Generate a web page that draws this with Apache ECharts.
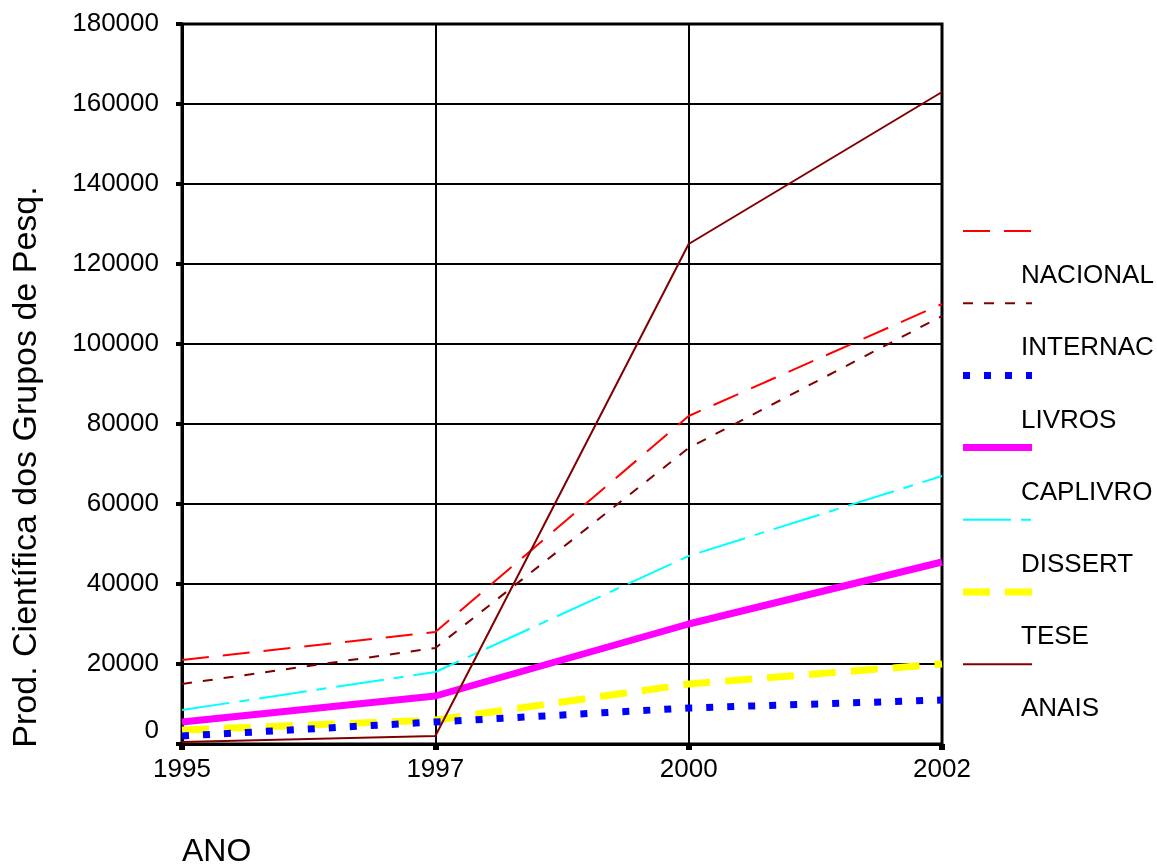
<!DOCTYPE html>
<html>
<head>
<meta charset="utf-8">
<script src="https://cdn.jsdelivr.net/npm/echarts@6/dist/echarts.min.js"></script>
<style>
  html, body { margin: 0; padding: 0; background: #ffffff; }
  #chart { width: 1157px; height: 868px; }
</style>
</head>
<body>
<div id="chart"></div>
<script>
// Production of the research groups, per year
var years = ['1995', '1997', '2000', '2002'];
var yTicks = [0, 20000, 40000, 60000, 80000, 100000, 120000, 140000, 160000, 180000];

var nacional = [21000, 28000, 82000, 110000];
var internac = [15000, 24000, 74000, 107000];
var livros   = [2000, 5500, 9000, 11000];
var caplivro = [5500, 12000, 30000, 45500];
var dissert  = [8500, 18000, 47000, 67000];
var tese     = [3500, 6000, 15000, 20000];
var anais    = [500, 2000, 125000, 163000];

var seriesNames = ['NACIONAL', 'INTERNAC', 'LIVROS', 'CAPLIVRO', 'DISSERT', 'TESE', 'ANAIS'];
var seriesData  = [nacional, internac, livros, caplivro, dissert, tese, anais];

// line look for each series
var styles = [
  { color: '#ff0000', width: 2, dash: [27, 14], z: 3 },
  { color: '#800000', width: 2, dash: [10, 11], z: 3 },
  { color: '#0000ff', width: 7, dash: [7, 14],  z: 6 },
  { color: '#ff00ff', width: 7, dash: 'solid',  z: 4 },
  { color: '#00ffff', width: 2, dash: [48, 10, 10, 10], z: 3 },
  { color: '#ffff00', width: 7, dash: [27, 15], z: 5 },
  { color: '#800000', width: 2, dash: 'solid',  z: 7 }
];

var font = 'Liberation Sans, Arial, sans-serif';

var series = seriesNames.map(function (name, i) {
  var s = styles[i];
  return {
    name: name,
    type: 'line',
    data: seriesData[i],
    symbol: 'none',
    z: s.z,
    lineStyle: { color: s.color, width: s.width, type: s.dash, cap: 'butt' },
    itemStyle: { color: s.color }
  };
});

// legend on the right: line sample, with the name below it
var legendGraphics = [];
var legendTop = 231, legendStep = 72.2;
seriesNames.forEach(function (name, i) {
  var s = styles[i];
  var y = legendTop + i * legendStep;
  legendGraphics.push({
    type: 'line',
    shape: { x1: 963, y1: y, x2: 1032, y2: y },
    style: { stroke: s.color, lineWidth: s.width, lineDash: s.dash === 'solid' ? null : s.dash, lineCap: 'butt' },
    z: 10
  });
  legendGraphics.push({
    type: 'text',
    x: 1021,
    y: y + 45,
    style: { text: name, font: '26px ' + font, fill: '#000', textVerticalAlign: 'middle', textAlign: 'left' },
    z: 10
  });
});

var chart = echarts.init(document.getElementById('chart'), null, { renderer: 'canvas' });

chart.setOption({
  backgroundColor: '#ffffff',
  animation: false,
  grid: {
    left: 182, right: 215, top: 24, bottom: 122,
    show: true, borderColor: '#000', borderWidth: 3, backgroundColor: 'transparent'
  },
  xAxis: {
    type: 'category',
    data: years,
    boundaryGap: false,
    name: 'ANO',
    nameLocation: 'start',
    nameGap: 0,
    nameTextStyle: {
      fontFamily: font, fontSize: 32, color: '#000',
      align: 'left', verticalAlign: 'top', padding: [92, 0, 0, 0]
    },
    axisLine: { show: true, lineStyle: { color: '#000', width: 3 } },
    axisTick: { show: true, length: 6, inside: false, lineStyle: { color: '#000', width: 6 } },
    axisLabel: { fontFamily: font, fontSize: 26, color: '#000', margin: 13 },
    splitLine: { show: true, lineStyle: { color: '#000', width: 2 } }
  },
  yAxis: {
    type: 'value',
    min: 0, max: 180000, interval: 20000,
    name: 'Prod. Científica dos Grupos de Pesq.',
    nameLocation: 'middle',
    nameRotate: 90,
    nameGap: 138,
    nameTextStyle: {
      fontFamily: font, fontSize: 34, color: '#000',
      padding: [0, 166, 0, 0]
    },
    axisLine: { show: true, lineStyle: { color: '#000', width: 3 } },
    axisTick: { show: true, length: 6, lineStyle: { color: '#000', width: 4 } },
    axisLabel: {
      fontFamily: font, fontSize: 26, color: '#000', margin: 23,
      formatter: function (v) {
        return v === 0 ? '{z|0}' : String(yTicks[Math.round(v / 20000)]);
      },
      rich: { z: { fontFamily: font, fontSize: 26, color: '#000', padding: [0, 0, 26, 0] } }
    },
    splitLine: { show: true, lineStyle: { color: '#000', width: 2 } }
  },
  series: series,
  graphic: legendGraphics
});
</script>
</body>
</html>
